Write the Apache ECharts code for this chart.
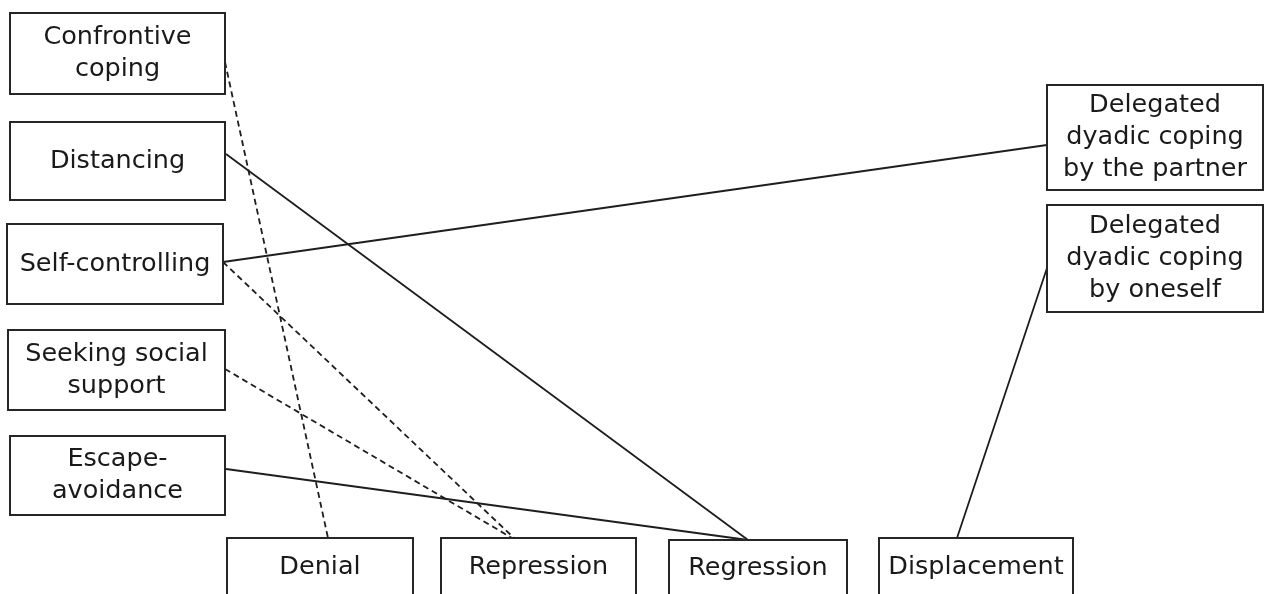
<!DOCTYPE html>
<html><head><meta charset="utf-8">
<script src="https://cdn.jsdelivr.net/npm/echarts@6/dist/echarts.min.js"></script>
<style>html,body{margin:0;padding:0;background:#fff}#c{width:1265px;height:594px}</style>
</head><body><div id="c"></div>
<script>
// ---- data ----
const copingStrategies = ['Confrontive coping', 'Distancing', 'Self-controlling', 'Seeking social support', 'Escape-avoidance'];
const defenseMechanisms = ['Denial', 'Repression', 'Regression', 'Displacement'];
const dyadicCoping = ['Delegated dyadic coping by the partner', 'Delegated dyadic coping by oneself'];
const linkFrom = ['Confrontive coping', 'Distancing', 'Self-controlling', 'Self-controlling', 'Seeking social support', 'Escape-avoidance', 'Displacement'];
const linkTo = ['Denial', 'Regression', 'Delegated dyadic coping by the partner', 'Repression', 'Repression', 'Regression', 'Delegated dyadic coping by oneself'];
const linkKind = ['dashed', 'solid', 'solid', 'dashed', 'dashed', 'solid', 'solid'];

// ---- layout (diagram space: x 0..1265, y 0..594 top-down) ----
const boxLayout = {
  'Confrontive coping': { box: [10, 13, 225, 94], lines: ['Confrontive', 'coping'] },
  'Distancing': { box: [10, 122, 225, 200], lines: ['Distancing'] },
  'Self-controlling': { box: [7, 224, 223, 304], lines: ['Self-controlling'] },
  'Seeking social support': { box: [8, 330, 225, 410], lines: ['Seeking social', 'support'] },
  'Escape-avoidance': { box: [10, 436, 225, 515], lines: ['Escape-', 'avoidance'] },
  'Denial': { box: [227, 538, 413, 596], lines: ['Denial'] },
  'Repression': { box: [441, 538, 636, 596], lines: ['Repression'] },
  'Regression': { box: [669, 540, 847, 596], lines: ['Regression'] },
  'Displacement': { box: [879, 538, 1073, 596], lines: ['Displacement'] },
  'Delegated dyadic coping by the partner': { box: [1047, 85, 1263, 190], lines: ['Delegated', 'dyadic coping', 'by the partner'] },
  'Delegated dyadic coping by oneself': { box: [1047, 205, 1263, 312], lines: ['Delegated', 'dyadic coping', 'by oneself'] }
};
// attachment points of each link [from, to]
const linkAnchors = [
  [[225, 62], [328, 538]],
  [[226, 154], [748, 540]],
  [[223, 262], [1047, 145]],
  [[223, 262], [514, 538]],
  [[225, 369], [512, 538]],
  [[226, 469], [748, 540]],
  [[957, 538], [1047, 268]]
];

const allNodes = copingStrategies.concat(defenseMechanisms, dyadicCoping);
const nodeData = allNodes.map(n => ({ name: n, value: boxLayout[n].box }));
const linkData = linkFrom.map((f, i) => ({
  name: f + ' → ' + linkTo[i],
  coords: linkAnchors[i],
  lineStyle: { type: linkKind[i] === 'dashed' ? [6, 4] : 'solid' }
}));

const chart = echarts.init(document.getElementById('c'), null, { renderer: 'canvas' });
chart.setOption({
  animation: false,
  backgroundColor: '#ffffff',
  grid: { left: 0, right: 0, top: 0, bottom: 0 },
  xAxis: { type: 'value', min: 0, max: 1265, show: false },
  yAxis: { type: 'value', min: 0, max: 594, inverse: true, show: false },
  series: [
    {
      type: 'lines',
      coordinateSystem: 'cartesian2d',
      z: 1,
      silent: true,
      lineStyle: { color: '#1e1e1e', width: 1.8, opacity: 1 },
      data: linkData
    },
    {
      type: 'custom',
      coordinateSystem: 'cartesian2d',
      z: 2,
      clip: false,
      silent: true,
      data: nodeData,
      renderItem: function (params, api) {
        const name = allNodes[params.dataIndex];
        const b = boxLayout[name].box;
        const p0 = api.coord([b[0], b[1]]);
        const p1 = api.coord([b[2], b[3]]);
        const x = Math.min(p0[0], p1[0]), y = Math.min(p0[1], p1[1]);
        const w = Math.abs(p1[0] - p0[0]), h = Math.abs(p1[1] - p0[1]);
        return {
          type: 'group',
          children: [
            {
              type: 'rect',
              shape: { x: x, y: y, width: w, height: h },
              style: { fill: '#fff', stroke: '#262626', lineWidth: 2 }
            },
            {
              type: 'text',
              x: x + w / 2,
              y: y + h / 2,
              style: {
                text: boxLayout[name].lines.join('\n'),
                fill: '#1a1a1a',
                font: '25.5px "DejaVu Sans"',
                lineHeight: 32,
                align: 'center',
                verticalAlign: 'middle'
              }
            }
          ]
        };
      }
    }
  ]
});
</script>
</body></html>
